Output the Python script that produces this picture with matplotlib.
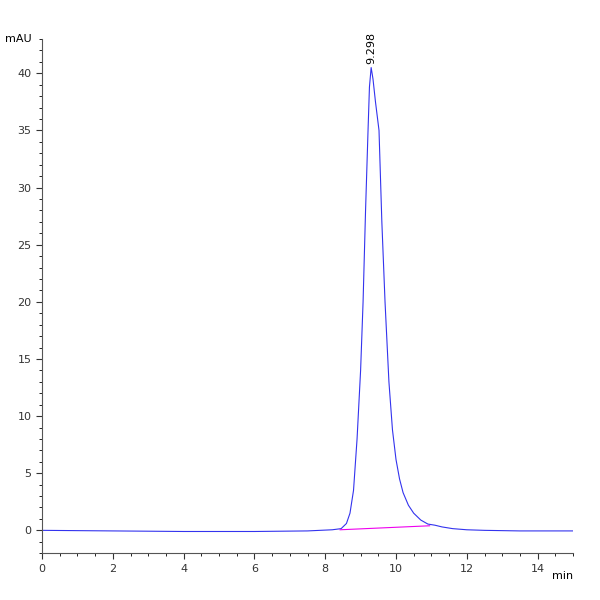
import numpy as np
import matplotlib.pyplot as plt
from matplotlib.ticker import MultipleLocator

# chromatogram trace (min, mAU)
time = [0.0, 2.0, 4.0, 6.0, 7.5, 8.2, 8.45, 8.6, 8.7, 8.8, 8.9, 9.0, 9.07, 9.14, 9.21, 9.25,
        9.298, 9.35, 9.42, 9.52, 9.6, 9.69, 9.8, 9.9, 10.0, 10.1, 10.2, 10.35, 10.5, 10.7, 10.9,
        11.1, 11.3, 11.6, 12.0, 12.5, 13.5, 15.0]
signal = [0.0, -0.05, -0.1, -0.1, -0.05, 0.05, 0.15, 0.6, 1.5, 3.5, 8.0, 14.0, 20.0, 28.0, 35.0, 38.8,
          40.5, 39.5, 37.5, 35.0, 27.0, 20.0, 13.0, 8.8, 6.2, 4.5, 3.3, 2.2, 1.5, 0.9, 0.55,
          0.45, 0.3, 0.15, 0.05, 0.0, -0.05, -0.05]
base_t = [8.42, 10.95]
base_y = [0.05, 0.4]
peak_rt = 9.298
peak_h = 40.5

fig, ax = plt.subplots(figsize=(6, 6), dpi=100)
fig.subplots_adjust(left=0.07, right=0.955, bottom=0.078, top=0.935)
ax.plot(time, signal, color='#3333ee', lw=0.8)
ax.plot(base_t, base_y, color='#ee00ee', lw=0.8)
ax.text(peak_rt, peak_h + 0.3, f"{peak_rt:.3f}", rotation=90, ha='center', va='bottom', fontsize=8)

ax.set_xlim(0, 15)
ax.set_ylim(-2, 43)
ax.xaxis.set_major_locator(MultipleLocator(2))
ax.xaxis.set_minor_locator(MultipleLocator(0.5))
ax.yaxis.set_major_locator(MultipleLocator(5))
ax.yaxis.set_minor_locator(MultipleLocator(1))
for s in ['top', 'right']:
    ax.spines[s].set_visible(False)
for s in ['left', 'bottom']:
    ax.spines[s].set_color('#555555')
ax.tick_params(labelsize=8, colors='#333333', length=4)
ax.tick_params(which='minor', length=2)
ax.text(-0.02, 1.0, 'mAU', transform=ax.transAxes, ha='right', va='center', fontsize=8)
ax.text(1.0, -0.045, 'min', transform=ax.transAxes, ha='right', va='center', fontsize=8)
fig.savefig('out.png')
